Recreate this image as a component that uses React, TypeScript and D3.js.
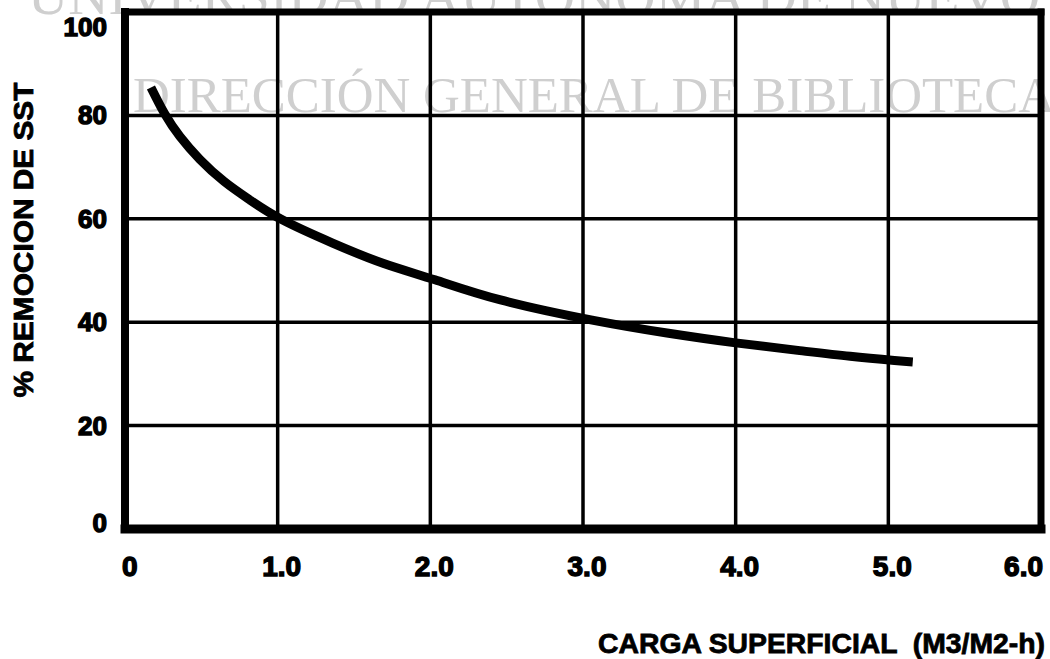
import * as d3 from "d3";

// carga superficial (m3/m2-h) vs % remocion de SST
const carga = [0.17, 0.26, 0.36, 0.49, 0.65, 0.82, 1.03, 1.36, 1.69, 2.03, 2.46, 3.06, 3.55, 4.0, 4.42, 4.75, 5.04, 5.16];
const remocion = [85.4, 80.3, 75.9, 71.5, 67.2, 63.6, 59.8, 55.3, 51.4, 48.2, 44.3, 40.4, 37.9, 36.0, 34.5, 33.4, 32.6, 32.3];

const xTicks = [0, 1, 2, 3, 4, 5, 6];
const xTickLabels = ["0", "1.0", "2.0", "3.0", "4.0", "5.0", "6.0"];
const yTicks = [0, 20, 40, 60, 80, 100];

const xTitle = "CARGA SUPERFICIAL  (M3/M2-h)";
const yTitle = "% REMOCION DE SST";
const watermark = ["UNIVERSIDAD AUTÓNOMA DE NUEVO", "DIRECCIÓN GENERAL DE BIBLIOTECA"];

const WIDTH = 1050;
const HEIGHT = 659;
const LABEL_FONT = "'Liberation Sans', Arial, sans-serif";

const App = () => {
  const x = d3.scaleLinear().domain([0, 6]).range([125, 1041]);
  const y = d3.scaleLinear().domain([0, 100]).range([529, 12]);

  const points: [number, number][] = carga.map((c, i) => [c, remocion[i]]);
  const line = d3
    .line<[number, number]>()
    .x((d) => x(d[0]))
    .y((d) => y(d[1]))
    .curve(d3.curveNatural);

  const x0 = x(0);
  const x1 = x(6);
  const yTop = y(100);
  const yBot = y(0);

  return (
    <svg
      width={WIDTH}
      height={HEIGHT}
      viewBox={`0 0 ${WIDTH} ${HEIGHT}`}
      style={{ position: "absolute", left: 0, top: 0, background: "#fff", display: "block" }}
    >
      {/* scan watermark */}
      <g fill="#cfcfcf" fontFamily="'Liberation Serif', 'Times New Roman', serif">
        <text x={28} y={14} fontSize={53} textLength={1012} lengthAdjust="spacingAndGlyphs">
          {watermark[0]}
        </text>
        <text x={133} y={112} fontSize={51} textLength={922} lengthAdjust="spacingAndGlyphs">
          {watermark[1]}
        </text>
      </g>

      {/* grid */}
      <g stroke="#000" strokeWidth={3.5}>
        {xTicks.slice(1, -1).map((t) => (
          <line key={"vx" + t} x1={x(t)} x2={x(t)} y1={yTop} y2={yBot} />
        ))}
        {yTicks.slice(1, -1).map((t) => (
          <line key={"hy" + t} x1={x0} x2={x1} y1={y(t)} y2={y(t)} />
        ))}
      </g>

      {/* frame */}
      <g stroke="#000" strokeLinecap="square">
        <line x1={x0} x2={x1} y1={yTop} y2={yTop} strokeWidth={7} />
        <line x1={x1} x2={x1} y1={yTop} y2={yBot} strokeWidth={7} />
        <line x1={x0} x2={x0} y1={yTop} y2={yBot} strokeWidth={8} />
        <line x1={x0} x2={x1} y1={yBot} y2={yBot} strokeWidth={9} />
      </g>

      {/* curve */}
      <path d={line(points) ?? ""} fill="none" stroke="#000" strokeWidth={9} strokeLinecap="butt" />

      {/* y tick labels */}
      <g
        fontFamily={LABEL_FONT}
        fontWeight="bold"
        fontSize={26}
        fill="#000"
        stroke="#000"
        strokeWidth={1.4}
        textAnchor="end"
      >
        {yTicks.map((t) => (
          <text key={"yl" + t} x={107} y={Math.min(Math.max(y(t) + 9, yTop + 24), yBot + 3)}>
            {t}
          </text>
        ))}
      </g>

      {/* x tick labels */}
      <g fontFamily={LABEL_FONT} fontWeight="bold" fontSize={28} fill="#000" stroke="#000" strokeWidth={1.4}>
        {xTicks.map((t, i) => {
          const anchor = i === 0 ? "start" : i === xTicks.length - 1 ? "end" : "middle";
          const dx = i === 0 ? -3 : i === xTicks.length - 1 ? 2 : 4;
          return (
            <text key={"xl" + t} x={x(t) + dx} y={576} textAnchor={anchor}>
              {xTickLabels[i]}
            </text>
          );
        })}
      </g>

      {/* axis titles */}
      <text
        x={598}
        y={653}
        fontFamily={LABEL_FONT}
        fontWeight="bold"
        fontSize={28}
        fill="#000"
        stroke="#000"
        strokeWidth={0.8}
        textLength={447}
        lengthAdjust="spacingAndGlyphs"
        style={{ whiteSpace: "pre" }}
      >
        {xTitle}
      </text>
      <text
        transform="translate(33,240) rotate(-90)"
        textAnchor="middle"
        fontFamily={LABEL_FONT}
        fontWeight="bold"
        fontSize={28}
        fill="#000"
        stroke="#000"
        strokeWidth={0.8}
        textLength={315}
        lengthAdjust="spacingAndGlyphs"
      >
        {yTitle}
      </text>
    </svg>
  );
};

export default App;
